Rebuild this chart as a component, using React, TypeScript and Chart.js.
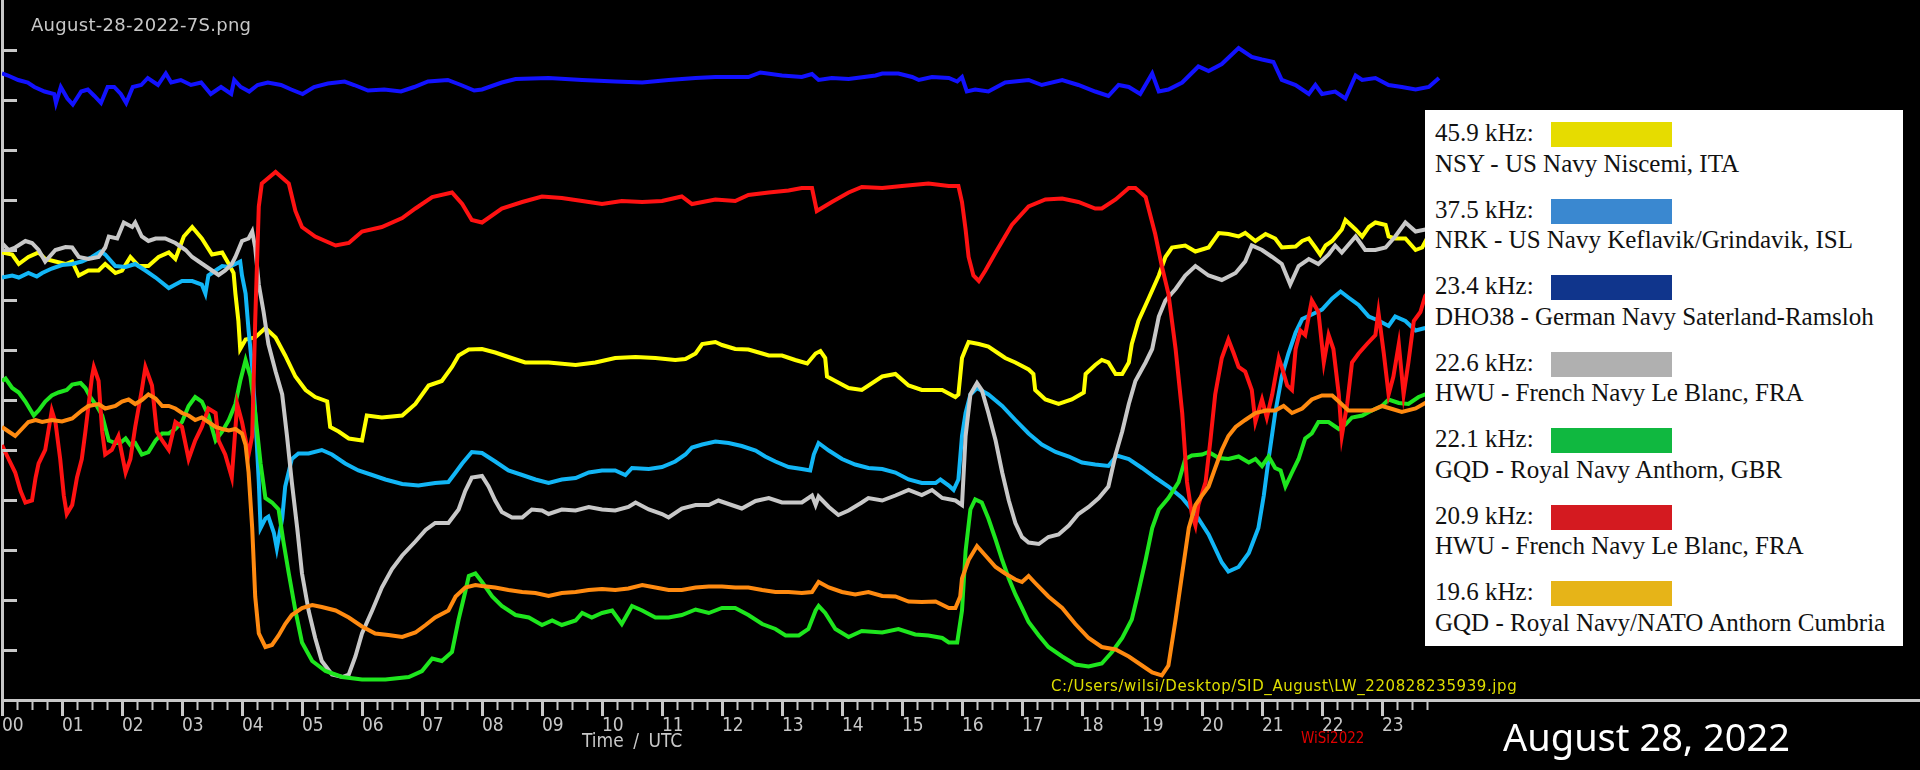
import { useEffect, useRef } from "react";
import { Chart, registerables } from "chart.js";

Chart.register(...registerables);

// Hour labels under the time axis
const HOUR_LABELS = [
  "00", "01", "02", "03", "04", "05", "06", "07", "08", "09", "10", "11",
  "12", "13", "14", "15", "16", "17", "18", "19", "20", "21", "22", "23",
];

// [hour UTC, relative signal level]
const NSY_459: [number, number][] = [
  [0, 89.5], [0.17, 89.1], [0.28, 87.2], [0.44, 88.6], [0.61, 89.5], [0.72, 88.2], [0.89, 87.7], [1.06, 87.2],
  [1.17, 87.7], [1.28, 84.9], [1.44, 85.9], [1.61, 85.9], [1.72, 87.2], [1.89, 85.4], [2.0, 85.9], [2.14, 88.6],
  [2.28, 86.8], [2.44, 86.8], [2.61, 88.6], [2.78, 89.5], [2.89, 88.2], [3.03, 92.7], [3.17, 94.6], [3.33, 92.3],
  [3.5, 89.1], [3.67, 89.5], [3.78, 87.2], [3.86, 85.4], [3.89, 81.3], [3.94, 75.8], [3.97, 70.2], [4.06, 72.1],
  [4.22, 72.5], [4.39, 74.4], [4.56, 72.5], [4.72, 68.9], [4.89, 64.7], [5.06, 62.0], [5.22, 60.6], [5.42, 59.7],
  [5.47, 54.6], [5.61, 53.7], [5.78, 52.3], [6.0, 51.9], [6.08, 56.9], [6.33, 56.5], [6.67, 56.9], [6.89, 59.2],
  [7.11, 62.9], [7.33, 63.8], [7.5, 66.6], [7.61, 68.9], [7.78, 70.1], [8.0, 70.2], [8.22, 69.5], [8.44, 68.6],
  [8.72, 67.5], [9.11, 67.5], [9.56, 67.0], [9.89, 67.5], [10.22, 68.4], [10.56, 68.6], [10.89, 68.4], [11.22, 68.0],
  [11.39, 68.2], [11.56, 69.3], [11.67, 71.2], [11.89, 71.6], [12.0, 71.0], [12.22, 70.2], [12.44, 70.1], [12.67, 69.3],
  [12.78, 68.9], [13.0, 68.9], [13.22, 68.0], [13.42, 67.3], [13.56, 69.3], [13.64, 69.8], [13.72, 68.4], [13.75, 64.7],
  [13.89, 63.8], [14.11, 62.4], [14.33, 62.0], [14.67, 64.7], [14.89, 65.2], [15.11, 62.9], [15.33, 62.0], [15.67, 62.0],
  [15.89, 60.6], [15.94, 61.1], [16.0, 68.4], [16.06, 70.2], [16.11, 71.6], [16.28, 71.2], [16.44, 70.7], [16.61, 69.3],
  [16.72, 68.4], [16.89, 67.5], [17.11, 66.1], [17.19, 65.2], [17.22, 62.0], [17.39, 60.1], [17.61, 59.2], [17.83, 60.1],
  [18.03, 61.5], [18.06, 65.2], [18.22, 67.0], [18.33, 68.0], [18.44, 67.5], [18.56, 65.2], [18.67, 65.2], [18.78, 67.5],
  [18.83, 71.2], [18.94, 75.8], [19.11, 80.3], [19.28, 84.9], [19.39, 88.6], [19.5, 90.5], [19.72, 90.9], [19.89, 89.7],
  [20.11, 90.5], [20.28, 93.4], [20.44, 93.2], [20.61, 92.7], [20.72, 93.4], [20.89, 91.8], [21.06, 93.2], [21.22, 92.3],
  [21.33, 90.5], [21.56, 90.7], [21.67, 91.8], [21.78, 92.3], [21.89, 90.5], [21.97, 89.1], [22.06, 90.9], [22.17, 91.8],
  [22.33, 94.1], [22.39, 96.0], [22.56, 94.1], [22.67, 92.7], [22.78, 94.6], [22.89, 95.5], [23.06, 95.0], [23.11, 92.7],
  [23.22, 92.3], [23.39, 92.3], [23.56, 90.0], [23.67, 90.5], [23.75, 92.3], [23.95, 92.0],
];

const NRK_375: [number, number][] = [
  [0, 84.5], [0.17, 84.9], [0.28, 84.5], [0.44, 85.4], [0.58, 84.7], [0.67, 85.4], [0.83, 86.3], [1.0, 87.0],
  [1.17, 87.2], [1.33, 87.7], [1.5, 88.6], [1.64, 89.7], [1.72, 89.1], [1.89, 86.8], [2.06, 86.6], [2.22, 87.2],
  [2.39, 85.9], [2.56, 84.5], [2.78, 82.4], [2.89, 83.1], [3.0, 83.8], [3.17, 83.8], [3.33, 83.1], [3.39, 81.3],
  [3.44, 84.9], [3.56, 85.9], [3.67, 86.8], [3.78, 86.6], [3.89, 87.2], [3.97, 87.7], [4.0, 84.9], [4.06, 81.3],
  [4.11, 73.9], [4.17, 66.6], [4.22, 57.4], [4.28, 43.6], [4.31, 34.4], [4.39, 36.3], [4.44, 36.7], [4.53, 33.5],
  [4.58, 30.3], [4.67, 36.3], [4.72, 42.7], [4.83, 48.2], [4.94, 49.3], [5.11, 49.3], [5.33, 50.0], [5.5, 49.1],
  [5.72, 47.3], [5.94, 45.9], [6.17, 45.0], [6.39, 44.1], [6.67, 43.2], [6.94, 42.9], [7.22, 43.4], [7.44, 43.6],
  [7.56, 45.5], [7.67, 47.3], [7.83, 49.6], [8.0, 49.4], [8.22, 47.7], [8.44, 45.9], [8.67, 45.0], [8.89, 44.1],
  [9.11, 43.4], [9.33, 44.1], [9.56, 44.4], [9.78, 45.5], [10.0, 45.9], [10.22, 45.9], [10.39, 45.0], [10.5, 46.4],
  [10.78, 46.2], [11.0, 46.6], [11.22, 47.7], [11.39, 49.1], [11.5, 50.5], [11.67, 51.1], [11.89, 51.7], [12.11, 51.4],
  [12.33, 50.8], [12.56, 49.9], [12.72, 48.7], [12.89, 47.7], [13.11, 46.6], [13.33, 46.2], [13.47, 45.9], [13.53, 49.1],
  [13.61, 51.4], [13.78, 49.9], [14.0, 48.2], [14.22, 47.1], [14.44, 46.4], [14.67, 46.2], [14.89, 45.5], [15.11, 44.1],
  [15.33, 43.4], [15.56, 43.4], [15.64, 44.1], [15.78, 42.9], [15.86, 42.0], [15.94, 44.1], [16.0, 52.8], [16.06, 57.4],
  [16.14, 61.1], [16.25, 62.4], [16.44, 61.1], [16.67, 58.8], [16.89, 56.0], [17.11, 53.3], [17.33, 51.1], [17.56, 49.6],
  [17.78, 48.7], [18.0, 47.5], [18.22, 47.1], [18.44, 46.8], [18.58, 48.9], [18.78, 48.2], [19.0, 46.4], [19.22, 44.5],
  [19.44, 42.7], [19.67, 40.4], [19.89, 37.2], [20.11, 33.1], [20.33, 27.5], [20.44, 25.7], [20.61, 26.6], [20.78, 29.4],
  [20.94, 34.4], [21.03, 40.9], [21.11, 48.2], [21.22, 57.4], [21.33, 64.7], [21.44, 69.3], [21.56, 73.5], [21.67, 76.2],
  [21.83, 77.1], [22.0, 78.1], [22.17, 80.3], [22.31, 81.7], [22.44, 80.5], [22.61, 79.0], [22.78, 76.7], [22.94, 75.9],
  [23.11, 74.8], [23.22, 76.7], [23.39, 75.8], [23.56, 73.9], [23.72, 74.4], [23.95, 75.3],
];

const DHO38_234: [number, number][] = [
  [0, 125.3], [0.1, 124.9], [0.27, 124.0], [0.43, 123.5], [0.54, 122.6], [0.71, 121.7], [0.87, 121.2], [0.9, 119.4],
  [0.98, 122.6], [1.09, 120.3], [1.18, 119.1], [1.32, 121.7], [1.43, 122.1], [1.54, 120.8], [1.65, 119.4], [1.76, 122.6],
  [1.87, 122.6], [1.98, 121.2], [2.07, 119.4], [2.18, 122.6], [2.32, 123.0], [2.43, 124.4], [2.6, 123.0], [2.73, 125.3],
  [2.82, 123.5], [2.98, 124.0], [3.15, 123.0], [3.32, 123.5], [3.48, 121.2], [3.65, 122.6], [3.82, 121.2], [3.87, 124.0],
  [3.98, 122.6], [4.12, 121.7], [4.26, 123.0], [4.43, 123.5], [4.65, 123.0], [4.82, 122.1], [5.01, 121.2], [5.2, 122.6],
  [5.43, 123.3], [5.71, 123.7], [5.87, 123.0], [6.1, 121.9], [6.37, 122.1], [6.65, 121.7], [6.87, 122.6], [7.1, 123.7],
  [7.43, 124.0], [7.65, 123.0], [7.87, 121.9], [8.0, 122.1], [8.33, 123.5], [8.56, 124.2], [9.11, 124.4], [9.67, 124.0],
  [10.22, 123.7], [10.67, 123.5], [11.11, 124.0], [11.56, 124.4], [11.89, 124.6], [12.44, 124.6], [12.64, 125.5], [13.0, 124.9],
  [13.33, 124.6], [13.5, 125.2], [13.61, 124.0], [13.83, 124.4], [14.11, 124.2], [14.56, 124.9], [14.67, 125.3], [14.94, 125.3],
  [15.17, 124.6], [15.28, 124.0], [15.5, 124.6], [15.78, 124.4], [15.92, 123.7], [16.0, 124.6], [16.08, 121.7], [16.22, 122.1],
  [16.44, 121.7], [16.72, 123.5], [17.11, 124.0], [17.33, 123.0], [17.67, 124.0], [17.94, 123.0], [18.22, 121.7], [18.44, 120.8],
  [18.61, 123.0], [18.78, 122.6], [18.97, 121.2], [19.17, 125.3], [19.28, 121.7], [19.44, 122.1], [19.67, 123.5], [19.94, 126.7],
  [20.11, 125.8], [20.33, 127.2], [20.61, 130.4], [20.83, 128.6], [21.0, 128.1], [21.19, 127.6], [21.33, 124.0], [21.56, 123.0],
  [21.78, 121.2], [21.89, 123.0], [22.0, 121.2], [22.22, 121.7], [22.39, 120.3], [22.56, 124.9], [22.67, 124.0], [22.89, 124.4],
  [23.11, 123.0], [23.33, 122.6], [23.56, 122.1], [23.78, 122.6], [23.95, 124.4],
];

const HWU_226: [number, number][] = [
  [0, 91.4], [0.11, 90.0], [0.22, 90.5], [0.39, 91.8], [0.5, 91.4], [0.61, 90.0], [0.72, 87.7], [0.89, 90.0],
  [1.06, 90.6], [1.17, 90.5], [1.28, 88.6], [1.44, 88.2], [1.61, 88.6], [1.72, 90.5], [1.78, 92.7], [1.92, 92.3],
  [2.03, 95.5], [2.17, 94.6], [2.22, 95.5], [2.33, 92.7], [2.44, 91.8], [2.56, 92.3], [2.72, 92.3], [2.89, 91.4],
  [3.06, 90.0], [3.17, 88.6], [3.28, 87.7], [3.39, 86.8], [3.5, 85.9], [3.61, 85.0], [3.72, 85.9], [3.83, 87.2],
  [3.89, 88.6], [4.0, 91.8], [4.11, 92.3], [4.17, 93.7], [4.22, 90.5], [4.28, 83.1], [4.36, 77.6], [4.44, 71.2],
  [4.56, 65.7], [4.67, 61.1], [4.75, 52.8], [4.83, 43.6], [4.92, 34.4], [5.0, 25.3], [5.11, 17.9], [5.22, 12.4],
  [5.33, 7.8], [5.5, 5.1], [5.67, 4.6], [5.78, 5.1], [5.89, 8.7], [6.0, 13.3], [6.17, 17.9], [6.33, 22.5],
  [6.5, 26.2], [6.67, 28.9], [6.89, 31.7], [7.06, 34.0], [7.22, 35.4], [7.44, 35.4], [7.61, 38.1], [7.72, 41.8],
  [7.83, 44.5], [8.0, 44.8], [8.11, 42.7], [8.22, 39.9], [8.33, 37.6], [8.5, 36.5], [8.67, 36.5], [8.83, 38.1],
  [9.0, 37.9], [9.11, 37.2], [9.33, 38.1], [9.56, 37.9], [9.78, 38.6], [10.0, 38.1], [10.22, 37.9], [10.44, 38.6],
  [10.56, 39.5], [10.78, 38.1], [11.0, 37.2], [11.11, 36.5], [11.33, 38.3], [11.56, 39.0], [11.78, 39.0], [11.94, 39.9],
  [12.11, 39.2], [12.33, 38.3], [12.56, 39.8], [12.78, 40.4], [13.0, 39.5], [13.33, 39.5], [13.5, 40.9], [13.56, 39.0],
  [13.61, 40.7], [13.78, 38.6], [13.94, 37.0], [14.11, 37.9], [14.33, 39.5], [14.44, 40.4], [14.67, 39.9], [14.89, 40.9],
  [15.11, 42.0], [15.33, 41.0], [15.5, 42.0], [15.67, 40.4], [15.89, 39.9], [16.0, 39.0], [16.06, 52.8], [16.14, 61.1],
  [16.25, 63.4], [16.33, 62.0], [16.44, 57.4], [16.56, 51.9], [16.67, 45.5], [16.78, 39.9], [16.89, 35.4], [17.0, 32.6],
  [17.11, 31.5], [17.28, 31.2], [17.44, 32.6], [17.61, 33.1], [17.78, 34.9], [17.94, 37.2], [18.11, 38.6], [18.28, 40.4],
  [18.44, 42.7], [18.56, 49.1], [18.67, 53.7], [18.78, 59.2], [18.89, 63.8], [19.06, 67.5], [19.17, 70.2], [19.28, 76.7],
  [19.39, 79.9], [19.56, 82.2], [19.72, 84.9], [19.89, 86.8], [20.11, 84.9], [20.33, 84.0], [20.56, 85.4], [20.72, 87.7],
  [20.83, 90.9], [21.0, 90.0], [21.17, 88.6], [21.33, 87.2], [21.47, 83.1], [21.61, 86.8], [21.78, 88.2], [21.94, 87.2],
  [22.11, 89.1], [22.22, 90.9], [22.33, 89.5], [22.56, 92.7], [22.72, 90.0], [22.89, 90.0], [23.06, 90.5], [23.22, 92.7],
  [23.39, 95.5], [23.56, 93.7], [23.72, 94.1], [23.95, 93.7],
];

const GQD_221: [number, number][] = [
  [0, 63.8], [0.06, 64.3], [0.17, 62.4], [0.28, 61.5], [0.39, 59.7], [0.53, 56.9], [0.61, 57.9], [0.72, 59.7],
  [0.83, 60.9], [0.94, 61.5], [1.08, 62.0], [1.17, 63.1], [1.31, 63.4], [1.39, 62.4], [1.47, 60.6], [1.58, 58.8],
  [1.67, 56.9], [1.72, 54.6], [1.78, 51.9], [1.89, 51.4], [1.97, 51.4], [2.06, 52.3], [2.14, 51.0], [2.22, 51.4],
  [2.33, 49.1], [2.44, 49.6], [2.56, 51.9], [2.67, 53.3], [2.78, 53.3], [2.89, 54.2], [3.0, 55.6], [3.11, 58.8],
  [3.22, 60.6], [3.33, 59.7], [3.44, 56.9], [3.56, 51.9], [3.67, 53.7], [3.78, 56.0], [3.89, 59.2], [3.97, 63.8],
  [4.06, 68.0], [4.14, 64.7], [4.22, 57.4], [4.31, 47.3], [4.39, 40.4], [4.5, 39.5], [4.61, 38.1], [4.69, 31.7],
  [4.78, 25.3], [4.89, 17.9], [5.0, 11.5], [5.17, 7.8], [5.39, 5.8], [5.67, 4.6], [6.0, 4.1], [6.39, 4.1],
  [6.78, 4.6], [7.0, 5.8], [7.17, 8.3], [7.33, 7.8], [7.5, 9.6], [7.61, 16.1], [7.72, 21.6], [7.78, 24.8],
  [7.89, 25.3], [8.0, 23.6], [8.17, 20.7], [8.33, 18.8], [8.56, 17.0], [8.78, 16.5], [9.0, 15.0], [9.17, 15.9],
  [9.33, 15.0], [9.56, 15.9], [9.67, 17.4], [9.83, 16.5], [10.0, 17.4], [10.17, 17.9], [10.33, 15.2], [10.5, 18.8],
  [10.67, 17.9], [10.89, 16.5], [11.11, 16.5], [11.33, 17.0], [11.56, 18.1], [11.78, 17.4], [12.0, 18.4], [12.22, 18.4],
  [12.44, 17.0], [12.67, 15.2], [12.89, 14.2], [13.06, 12.9], [13.28, 12.9], [13.44, 14.2], [13.56, 17.9], [13.61, 18.8],
  [13.72, 17.4], [13.89, 14.2], [14.11, 12.6], [14.33, 13.8], [14.67, 13.5], [14.94, 14.2], [15.22, 13.1], [15.44, 12.9],
  [15.67, 12.4], [15.78, 11.5], [15.92, 11.5], [16.0, 17.9], [16.06, 29.8], [16.14, 38.1], [16.22, 40.1], [16.33, 39.5],
  [16.44, 36.3], [16.56, 32.1], [16.67, 28.0], [16.78, 24.3], [16.89, 21.1], [17.0, 18.4], [17.11, 15.6], [17.28, 12.9],
  [17.44, 10.6], [17.67, 8.7], [17.89, 7.1], [18.11, 6.7], [18.33, 7.3], [18.5, 9.6], [18.67, 12.4], [18.83, 16.1],
  [18.94, 21.6], [19.06, 28.0], [19.17, 34.4], [19.28, 38.1], [19.44, 40.4], [19.61, 43.6], [19.72, 48.2], [19.83, 48.9],
  [20.0, 49.1], [20.11, 49.6], [20.28, 48.4], [20.44, 48.2], [20.61, 48.7], [20.78, 47.5], [20.89, 48.2], [21.0, 46.8],
  [21.11, 48.7], [21.22, 46.4], [21.31, 45.9], [21.39, 42.7], [21.5, 45.5], [21.61, 48.2], [21.72, 52.3], [21.83, 53.3],
  [21.94, 55.6], [22.11, 55.6], [22.28, 54.2], [22.39, 55.1], [22.5, 56.5], [22.67, 56.9], [22.83, 57.9], [23.0, 58.8],
  [23.11, 60.1], [23.28, 59.4], [23.44, 59.2], [23.61, 60.6], [23.72, 61.1], [23.95, 61.5],
];

const HWU_209: [number, number][] = [
  [0, 51.0], [0.11, 48.2], [0.22, 45.5], [0.31, 41.8], [0.39, 39.5], [0.5, 39.9], [0.56, 44.5], [0.61, 47.3],
  [0.72, 50.0], [0.83, 57.9], [0.89, 55.6], [0.97, 48.2], [1.03, 40.9], [1.08, 37.2], [1.17, 39.0], [1.25, 44.5],
  [1.33, 48.2], [1.39, 53.7], [1.5, 64.7], [1.53, 66.6], [1.61, 63.8], [1.67, 53.7], [1.72, 49.1], [1.83, 50.0],
  [1.94, 52.8], [2.06, 45.5], [2.14, 48.2], [2.22, 54.6], [2.33, 62.0], [2.39, 66.6], [2.5, 62.9], [2.58, 53.7],
  [2.67, 51.9], [2.78, 50.0], [2.89, 55.6], [3.0, 54.6], [3.11, 48.2], [3.22, 51.9], [3.33, 54.6], [3.44, 58.3],
  [3.56, 57.4], [3.61, 51.9], [3.72, 49.1], [3.83, 44.5], [3.92, 59.2], [4.0, 55.6], [4.11, 49.1], [4.17, 52.8],
  [4.22, 75.8], [4.28, 98.7], [4.33, 103.3], [4.56, 105.6], [4.78, 103.3], [4.89, 97.8], [5.0, 94.6], [5.22, 92.7],
  [5.56, 90.9], [5.78, 91.4], [6.0, 93.7], [6.33, 94.6], [6.67, 96.4], [6.89, 98.3], [7.17, 100.6], [7.5, 101.5],
  [7.67, 99.2], [7.83, 96.0], [8.0, 95.5], [8.33, 98.3], [8.67, 99.6], [9.0, 100.7], [9.33, 100.4], [9.67, 99.8],
  [10.0, 99.2], [10.33, 99.8], [10.67, 99.6], [11.0, 99.8], [11.33, 100.7], [11.5, 99.2], [11.89, 100.1], [12.22, 99.8],
  [12.44, 101.0], [12.78, 101.5], [13.11, 101.9], [13.33, 102.4], [13.5, 102.4], [13.58, 97.8], [13.83, 99.6], [14.11, 101.5],
  [14.33, 102.6], [14.67, 102.4], [15.0, 102.8], [15.44, 103.3], [15.78, 102.8], [15.94, 102.8], [16.0, 99.6], [16.06, 94.1],
  [16.11, 88.6], [16.19, 84.9], [16.28, 83.8], [16.39, 85.9], [16.56, 89.5], [16.83, 95.0], [17.11, 98.7], [17.39, 100.1],
  [17.67, 100.3], [17.94, 99.6], [18.22, 98.3], [18.33, 98.3], [18.56, 100.1], [18.78, 102.4], [18.89, 102.4], [19.06, 100.6],
  [19.22, 93.2], [19.33, 86.8], [19.44, 81.3], [19.56, 70.2], [19.67, 57.4], [19.75, 43.6], [19.83, 37.2], [19.89, 34.9],
  [19.94, 39.0], [20.06, 43.6], [20.14, 51.9], [20.22, 61.1], [20.33, 68.4], [20.44, 72.1], [20.53, 69.3], [20.61, 66.6],
  [20.72, 65.7], [20.83, 62.0], [20.89, 55.6], [21.0, 60.1], [21.08, 56.5], [21.17, 61.1], [21.28, 68.4], [21.33, 66.6],
  [21.42, 62.9], [21.5, 62.0], [21.56, 70.2], [21.64, 73.9], [21.72, 73.0], [21.83, 79.9], [21.94, 77.6], [22.03, 67.5],
  [22.11, 73.0], [22.19, 70.2], [22.28, 61.1], [22.33, 52.8], [22.42, 59.2], [22.5, 67.5], [22.61, 69.3], [22.75, 71.2],
  [22.89, 73.0], [22.94, 77.6], [23.03, 69.3], [23.11, 61.1], [23.19, 64.7], [23.28, 71.2], [23.36, 61.1], [23.44, 67.5],
  [23.53, 75.8], [23.64, 77.6], [23.72, 80.8], [23.95, 84.0],
];

const GQD_196: [number, number][] = [
  [0, 54.6], [0.11, 53.7], [0.22, 52.8], [0.33, 54.2], [0.44, 55.6], [0.56, 56.0], [0.67, 55.6], [0.83, 56.0],
  [1.0, 55.7], [1.17, 56.3], [1.33, 57.9], [1.44, 58.8], [1.61, 59.2], [1.72, 58.3], [1.89, 58.8], [2.0, 59.7],
  [2.11, 60.1], [2.22, 59.2], [2.33, 60.0], [2.44, 61.1], [2.56, 60.3], [2.67, 58.8], [2.78, 58.8], [2.89, 58.3],
  [3.0, 57.4], [3.11, 56.9], [3.22, 56.0], [3.33, 56.5], [3.44, 55.6], [3.56, 54.6], [3.67, 54.2], [3.78, 53.9],
  [3.89, 54.2], [4.0, 53.3], [4.06, 51.0], [4.11, 45.5], [4.17, 34.4], [4.22, 20.7], [4.28, 13.3], [4.39, 10.6],
  [4.5, 11.0], [4.61, 12.9], [4.72, 15.2], [4.83, 17.0], [5.0, 18.4], [5.17, 19.0], [5.33, 18.6], [5.56, 17.9],
  [5.78, 16.5], [6.0, 14.7], [6.22, 13.3], [6.44, 13.0], [6.67, 12.6], [6.89, 13.5], [7.06, 15.0], [7.22, 16.5],
  [7.44, 17.9], [7.56, 20.7], [7.72, 22.5], [7.89, 23.0], [8.0, 22.8], [8.22, 22.5], [8.44, 22.0], [8.67, 21.6],
  [8.89, 21.4], [9.11, 20.8], [9.33, 21.4], [9.56, 21.6], [9.78, 22.0], [10.0, 22.2], [10.22, 22.0], [10.44, 22.3],
  [10.67, 23.0], [10.89, 22.5], [11.11, 22.0], [11.33, 22.0], [11.56, 22.5], [11.78, 22.7], [12.0, 22.7], [12.22, 22.5],
  [12.44, 22.5], [12.67, 22.0], [12.89, 21.6], [13.11, 21.6], [13.33, 21.4], [13.5, 21.6], [13.61, 23.6], [13.78, 22.5],
  [14.0, 21.6], [14.22, 21.1], [14.44, 21.6], [14.67, 20.8], [14.89, 20.7], [15.11, 19.7], [15.33, 19.6], [15.56, 19.7],
  [15.78, 18.4], [15.89, 18.4], [15.97, 20.7], [16.0, 24.3], [16.11, 28.0], [16.25, 30.8], [16.39, 28.9], [16.56, 26.6],
  [16.72, 25.3], [16.89, 24.1], [17.0, 23.6], [17.11, 24.8], [17.22, 23.4], [17.44, 20.7], [17.67, 18.4], [17.89, 15.2],
  [18.11, 12.4], [18.33, 10.6], [18.56, 10.1], [18.78, 8.7], [19.0, 6.9], [19.17, 5.5], [19.33, 4.9], [19.44, 6.9],
  [19.56, 16.1], [19.67, 25.3], [19.78, 34.4], [19.89, 39.0], [20.0, 40.9], [20.11, 42.7], [20.22, 46.4], [20.33, 50.0],
  [20.44, 52.8], [20.56, 54.6], [20.72, 56.0], [20.89, 57.4], [21.06, 57.9], [21.22, 57.9], [21.36, 58.8], [21.5, 57.4],
  [21.67, 58.3], [21.83, 60.1], [22.0, 60.9], [22.17, 60.9], [22.28, 59.7], [22.44, 57.9], [22.67, 57.9], [22.83, 57.9],
  [23.0, 58.8], [23.17, 58.2], [23.33, 57.6], [23.56, 58.3], [23.72, 59.4], [23.95, 59.2],
];

const SERIES = [NSY_459, NRK_375, DHO38_234, HWU_226, GQD_221, HWU_209, GQD_196];
const LINE_COLORS = ["#ffff00", "#12b6f6", "#1212ff", "#c8c8c8", "#1ee61e", "#ff1212", "#ff8a10"];

// Legend box
const LEGEND_FREQS = ["45.9 kHz:", "37.5 kHz:", "23.4 kHz:", "22.6 kHz:", "22.1 kHz:", "20.9 kHz:", "19.6 kHz:"];
const LEGEND_STATIONS = [
  "NSY - US Navy Niscemi, ITA",
  "NRK - US Navy Keflavik/Grindavik, ISL",
  "DHO38 - German Navy Saterland-Ramsloh",
  "HWU - French Navy Le Blanc, FRA",
  "GQD - Royal Navy Anthorn, GBR",
  "HWU - French Navy Le Blanc, FRA",
  "GQD - Royal Navy/NATO Anthorn Cumbria",
];
const LEGEND_SWATCHES = ["#e6dc00", "#3a88d0", "#10358c", "#b0b0b0", "#10b840", "#d41a20", "#e6b418"];

const AXIS_GRAY = "#c8c8c8";
const TICK_FONT = "'DejaVu Sans Condensed', 'Liberation Sans Narrow', 'DejaVu Sans', sans-serif";

// quarter-hour tick positions for the time axis
const QUARTER_TICKS = HOUR_LABELS.flatMap((_, h) => [h, h + 0.25, h + 0.5, h + 0.75]);

// draws the inward ticks of the level axis and the downward ticks of the time axis
const axisTicksPlugin = {
  id: "axisTicks",
  afterDraw(chart: any) {
    const { ctx, chartArea } = chart;
    const xs = chart.scales.x;
    const ys = chart.scales.y;
    ctx.save();
    ctx.strokeStyle = AXIS_GRAY;
    ctx.lineWidth = 3;
    ys.ticks.forEach((t: any) => {
      if (t.value <= ys.min || t.value >= ys.max) return;
      const py = Math.round(ys.getPixelForValue(t.value)) + 0.5;
      ctx.beginPath();
      ctx.moveTo(chartArea.left, py);
      ctx.lineTo(chartArea.left + 15, py);
      ctx.stroke();
    });
    xs.ticks.forEach((t: any) => {
      const major = Number.isInteger(t.value);
      const px = Math.round(xs.getPixelForValue(t.value)) + 0.5;
      ctx.lineWidth = major ? 3 : 2;
      ctx.beginPath();
      ctx.moveTo(px, chartArea.bottom);
      ctx.lineTo(px, chartArea.bottom + (major ? 16 : 10));
      ctx.stroke();
    });
    ctx.restore();
  },
};

function SidChart() {
  const canvasRef = useRef<HTMLCanvasElement>(null);

  useEffect(() => {
    if (!canvasRef.current) return;
    const chart = new Chart(canvasRef.current, {
      type: "line",
      data: {
        datasets: SERIES.map((s, i) => ({
          data: s.map(([x, y]) => ({ x, y })),
          borderColor: LINE_COLORS[i],
          borderWidth: 4,
          pointRadius: 0,
          fill: false,
          tension: 0,
          order: SERIES.length - i,
        })),
      },
      options: {
        animation: false,
        responsive: false,
        maintainAspectRatio: false,
        devicePixelRatio: 1,
        layout: { padding: { left: 2, right: 0, top: 0, bottom: 0 } },
        plugins: { legend: { display: false }, tooltip: { enabled: false } },
        scales: {
          x: {
            type: "linear",
            min: 0,
            max: 1918 / 60,
            afterBuildTicks: (scale: any) => {
              scale.ticks = QUARTER_TICKS.map((value) => ({ value }));
            },
            afterFit: (scale: any) => {
              scale.height = 70;
              scale.paddingLeft = 0;
              scale.paddingRight = 0;
            },
            grid: { display: false },
            border: { display: true, color: AXIS_GRAY, width: 3 },
            ticks: {
              autoSkip: false,
              maxRotation: 0,
              align: "start",
              padding: 7,
              color: AXIS_GRAY,
              font: { family: TICK_FONT, size: 19 },
              callback: (value: any) => (Number.isInteger(value) ? HOUR_LABELS[value] : ""),
            },
          },
          y: {
            min: 0,
            max: 140,
            afterFit: (scale: any) => {
              scale.width = 0;
            },
            grid: { display: false },
            border: { display: true, color: AXIS_GRAY, width: 3 },
            ticks: { display: false, stepSize: 10 },
          },
        },
      },
      plugins: [axisTicksPlugin],
    } as any);
    return () => chart.destroy();
  }, []);

  return (
    <canvas
      ref={canvasRef}
      width={1920}
      height={770}
      style={{ position: "absolute", left: 0, top: 0, width: 1920, height: 770 }}
    />
  );
}

export default function App() {
  useEffect(() => {
    document.body.style.margin = "0";
    document.body.style.background = "#000";
  }, []);

  return (
    <div
      style={{
        position: "fixed",
        left: 0,
        top: 0,
        width: 1920,
        height: 770,
        background: "#000",
        overflow: "hidden",
      }}
    >
      <SidChart />
      <div
        style={{
          position: "absolute",
          left: 31,
          top: 16,
          font: "18px 'DejaVu Sans', sans-serif",
          lineHeight: "18px",
          letterSpacing: "0.3px",
          color: AXIS_GRAY,
        }}
      >
        August-28-2022-7S.png
      </div>
      <div
        style={{
          position: "absolute",
          left: 1051,
          top: 679,
          font: "15px 'DejaVu Sans', sans-serif",
          lineHeight: "15px",
          letterSpacing: "0.6px",
          color: "#dede00",
          whiteSpace: "nowrap",
        }}
      >
        C:/Users/wilsi/Desktop/SID_August\LW_220828235939.jpg
      </div>
      <div
        style={{
          position: "absolute",
          left: 582,
          top: 731,
          font: `19px ${TICK_FONT}`,
          lineHeight: "19px",
          wordSpacing: "4px",
          color: AXIS_GRAY,
          whiteSpace: "nowrap",
        }}
      >
        Time / UTC
      </div>
      <div
        style={{
          position: "absolute",
          left: 1301,
          top: 731,
          font: `15px ${TICK_FONT}`,
          lineHeight: "15px",
          color: "#e00000",
        }}
      >
        WiSi2022
      </div>
      <div
        style={{
          position: "absolute",
          left: 1503,
          top: 713,
          font: "38px 'Noto Sans', 'Open Sans', sans-serif",
          lineHeight: "46px",
          color: "#ffffff",
          whiteSpace: "nowrap",
        }}
      >
        August 28, 2022
      </div>
      <div
        style={{
          position: "absolute",
          left: 1425,
          top: 110,
          width: 478,
          height: 536,
          background: "#ffffff",
          boxSizing: "border-box",
          paddingTop: 8,
          paddingLeft: 10,
          font: "25px 'Liberation Serif', 'Times New Roman', serif",
          color: "#111",
        }}
      >
        {LEGEND_FREQS.map((f, i) => (
          <div key={i} style={{ position: "relative", height: 61, marginBottom: 15.5 }}>
            <div style={{ lineHeight: "30.5px", whiteSpace: "nowrap" }}>{f}</div>
            <div style={{ lineHeight: "30.5px", whiteSpace: "nowrap" }}>{LEGEND_STATIONS[i]}</div>
            <div
              style={{
                position: "absolute",
                left: 116,
                top: 4,
                width: 121,
                height: 25,
                background: LEGEND_SWATCHES[i],
              }}
            />
          </div>
        ))}
      </div>
    </div>
  );
}
